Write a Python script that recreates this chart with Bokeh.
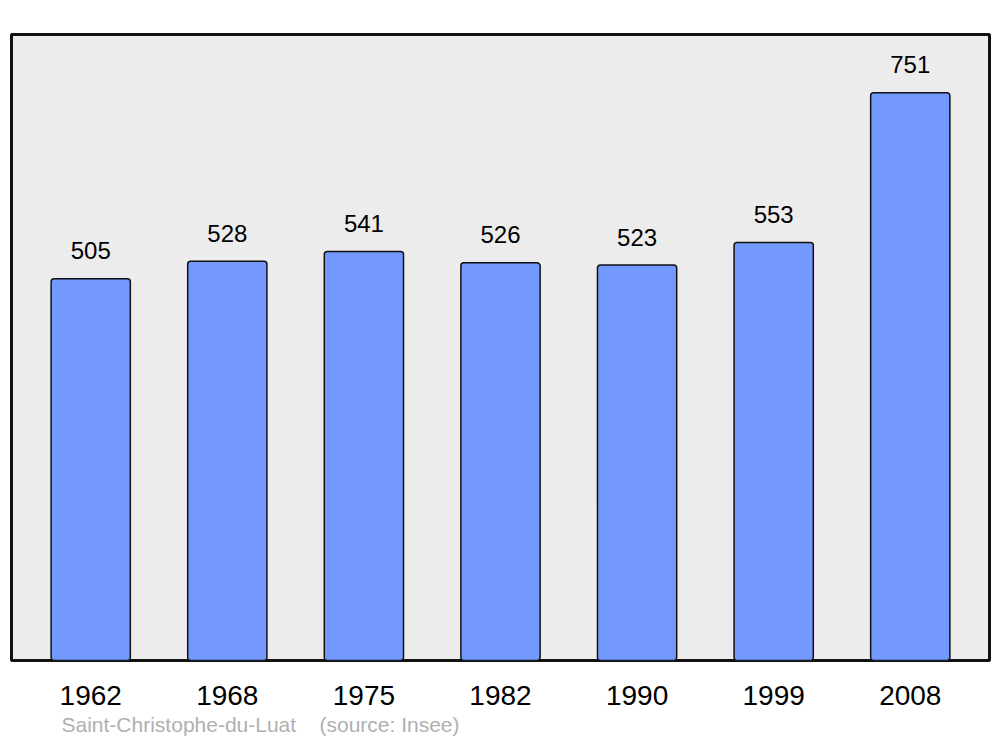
from bokeh.plotting import figure
from bokeh.models import Range1d, FactorRange, ColumnDataSource, Title
from bokeh.embed import file_html
from bokeh.resources import INLINE

years = ["1962", "1968", "1975", "1982", "1990", "1999", "2008"]
population = [505, 528, 541, 526, 523, 553, 751]
labels = [str(v) for v in population]
source_note = "Saint-Christophe-du-Luat\u00a0\u00a0\u00a0\u00a0(source: Insee)"

src = ColumnDataSource(dict(x=years, top=population, label=labels))

p = figure(width=992, height=739, output_backend="svg", toolbar_location=None,
           x_range=FactorRange(*years, range_padding=0.08, range_padding_units="absolute"),
           y_range=Range1d(0, 828))
p.min_border_left = 11
p.min_border_right = 3
p.min_border_top = 34
p.min_border_bottom = 79

p.background_fill_color = "#ececec"
p.border_fill_color = "white"
p.outline_line_color = "#111111"
p.outline_line_width = 3
p.grid.visible = False
p.yaxis.visible = False

p.vbar(x="x", top="top", width=0.58, source=src, fill_color="#7399ff",
       line_color="#111111", line_width=1.5, border_radius=3)
p.text(x="x", y="top", text="label", source=src, text_align="center",
       text_baseline="middle", y_offset=-28, text_font_size="24px",
       text_font={"value": "Liberation Sans"}, text_color="black")

ax = p.xaxis[0]
ax.axis_line_color = None
ax.major_tick_line_color = None
ax.minor_tick_line_color = None
ax.major_tick_out = 0
ax.major_tick_in = 0
ax.major_label_standoff = 25
ax.major_label_text_font_size = "28px"
ax.major_label_text_font = "Liberation Sans"
ax.major_label_text_color = "black"

t = Title(text=source_note, align="left", offset=50, text_font_size="21px",
          text_font="Liberation Sans", text_color="#b0b0b0",
          text_font_style="normal", standoff=7, vertical_align="bottom")
p.add_layout(t, "below")

open("out.html", "w").write(file_html(p, INLINE))
